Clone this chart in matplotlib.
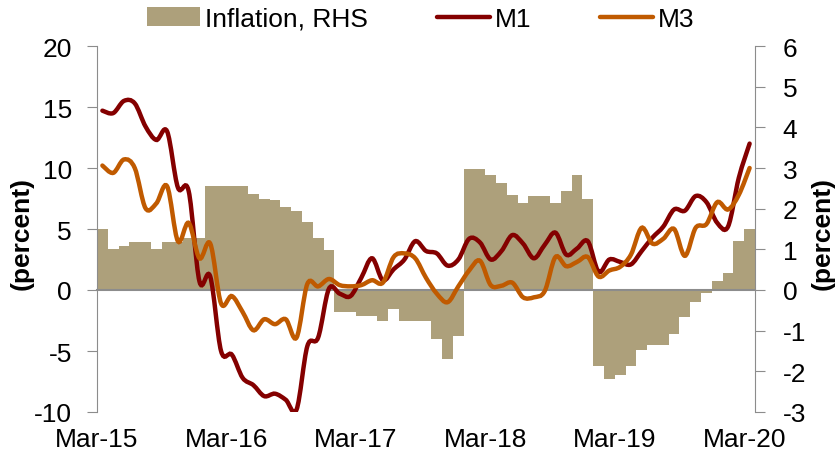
import numpy as np
import matplotlib
matplotlib.use("Agg")
import matplotlib.pyplot as plt
from matplotlib.path import Path
from matplotlib.patches import PathPatch, Patch
from matplotlib.lines import Line2D

plt.rcParams['font.family'] = ['Liberation Sans', 'DejaVu Sans']
plt.rcParams['axes.unicode_minus'] = False

# monthly data, Mar-15 .. Mar-20 (61 months)
tick_labels = ["Mar-15", "Mar-16", "Mar-17", "Mar-18", "Mar-19", "Mar-20"]

inflation = [1.50, 1.00, 1.08, 1.18, 1.18, 1.00, 1.18, 1.18, 1.28, 1.28,
             2.55, 2.55, 2.55, 2.55, 2.36, 2.25, 2.22, 2.04, 1.94, 1.67,
             1.28, 0.99, -0.55, -0.55, -0.65, -0.65, -0.75, -0.47, -0.75, -0.75,
             -0.75, -1.20, -1.70, -1.14, 2.98, 2.98, 2.84, 2.63, 2.33, 2.14,
             2.32, 2.32, 2.14, 2.43, 2.83, 2.23, -1.88, -2.18, -2.09, -1.88,
             -1.47, -1.36, -1.36, -1.08, -0.67, -0.30, -0.07, 0.23, 0.43, 1.21,
             1.50]

m1 = [14.7, 14.5, 15.5, 15.3, 13.4, 12.3, 13.0, 8.4, 8.1, 0.7,
      1.1, -5.0, -5.3, -7.2, -7.8, -8.7, -8.5, -9.0, -9.8, -4.6,
      -3.9, 0.1, -0.3, -0.5, 1.0, 2.6, 0.8, 1.7, 2.5, 4.0,
      3.2, 3.0, 2.0, 2.5, 4.2, 3.9, 2.5, 3.2, 4.5, 3.8,
      2.6, 3.7, 4.7, 2.9, 3.4, 4.0, 1.5, 2.5, 2.3, 2.1,
      3.2, 4.3, 5.2, 6.6, 6.5, 7.7, 7.2, 5.5, 5.2, 9.2,
      12.0]

m3 = [10.2, 9.6, 10.7, 10.0, 6.7, 7.1, 8.5, 4.0, 5.5, 2.6,
      3.8, -1.1, -0.5, -1.8, -3.3, -2.4, -2.8, -2.4, -3.9, 0.5,
      0.3, 0.9, 0.4, 0.3, 0.4, 0.8, 0.6, 2.7, 3.0, 2.6,
      1.0, -0.3, -1.0, 0.3, 1.6, 2.4, 0.4, 0.35, 0.6, -0.6,
      -0.6, -0.1, 2.7, 1.95, 2.3, 2.7, 1.1, 1.6, 1.9, 2.9,
      5.1, 3.8, 4.2, 5.0, 2.8, 5.1, 5.4, 7.2, 6.6, 7.8,
      10.0]

bar_col = "#ADA07B"
m1_col = "#840000"
m3_col = "#C05A00"
axis_col = "#8C8C8C"
fs = 19

x = np.arange(len(m1)) + 0.5


def smooth_path(xs, ys):
    # Excel-like smoothed line: Catmull-Rom segments as cubic Beziers
    p = np.column_stack([xs, ys])
    pe = np.vstack([p[0], p, p[-1]])
    verts = [p[0]]
    codes = [Path.MOVETO]
    for k in range(len(p) - 1):
        p0, p1, p2, p3 = pe[k], pe[k + 1], pe[k + 2], pe[k + 3]
        verts += [p1 + (p2 - p0) / 6, p2 - (p3 - p1) / 6, p2]
        codes += [Path.CURVE4] * 3
    return Path(verts, codes)


fig = plt.figure(figsize=(8.37, 4.6), dpi=100)
ax = fig.add_axes([97 / 837, 1 - 413 / 460, (755 - 97) / 837, (413 - 47) / 460])
axr = ax.twinx()
ax.set_zorder(axr.get_zorder() + 1)
ax.patch.set_visible(False)

# inflation bars (RHS)
axr.bar(x, inflation, width=1.0, color=bar_col, edgecolor="none")
axr.set_ylim(-3, 6)
axr.set_yticks(np.arange(-3, 7, 1))

# money lines (LHS)
ax.add_patch(PathPatch(smooth_path(x, m1), fill=False, edgecolor=m1_col, lw=3.2, capstyle="round"))
ax.add_patch(PathPatch(smooth_path(x, m3), fill=False, edgecolor=m3_col, lw=3.2, capstyle="round"))
ax.set_ylim(-10, 20)
ax.set_yticks(np.arange(-10, 21, 5))
ax.set_xlim(0, len(m1))

# x axis on the zero line, labels at the bottom
for a in (ax, axr):
    a.spines["top"].set_visible(False)
    a.spines["bottom"].set_visible(False)
ax.spines["left"].set_color(axis_col)
ax.spines["right"].set_visible(False)
axr.spines["left"].set_visible(False)
axr.spines["right"].set_color(axis_col)
axr.spines["bottom"].set_visible(True)
axr.spines["bottom"].set_position(("data", 0))
axr.spines["bottom"].set_color(axis_col)
axr.spines["bottom"].set_linewidth(1.5)
axr.set_xticks(np.arange(0, 61, 12))
axr.tick_params(axis="x", bottom=True, direction="out", length=6, color=axis_col, labelbottom=False)
ax.set_xticks([])

sec = ax.secondary_xaxis("bottom")
sec.set_xticks(np.arange(0, 61, 12))
sec.set_xticklabels(tick_labels)
sec.tick_params(length=0, pad=11, labelsize=fs)
sec.spines["bottom"].set_visible(False)

ax.tick_params(axis="y", direction="out", length=7, color=axis_col, labelsize=fs, pad=11)
axr.tick_params(axis="y", direction="out", length=7, color=axis_col, labelsize=fs, pad=13)

ax.set_ylabel("(percent)", fontsize=fs, fontweight="bold")
axr.set_ylabel("(percent)", fontsize=fs, fontweight="bold", rotation=90)
ax.yaxis.set_label_coords(-0.097, 0.49)
axr.yaxis.set_label_coords(1.085, 0.49)

handles = [Patch(facecolor=bar_col, edgecolor="none"),
           Line2D([], [], color=m1_col, lw=3.2, solid_capstyle="round"),
           Line2D([], [], color=m3_col, lw=3.2, solid_capstyle="round")]
fig.legend(handles, ["Inflation, RHS", "M1", "M3"], loc="center", bbox_to_anchor=(0.503, 1 - 20 / 460),
           ncol=3, frameon=False, fontsize=fs, handlelength=2.0, handleheight=0.75,
           handletextpad=0.2, columnspacing=2.6)

fig.savefig("out.png", dpi=100)
